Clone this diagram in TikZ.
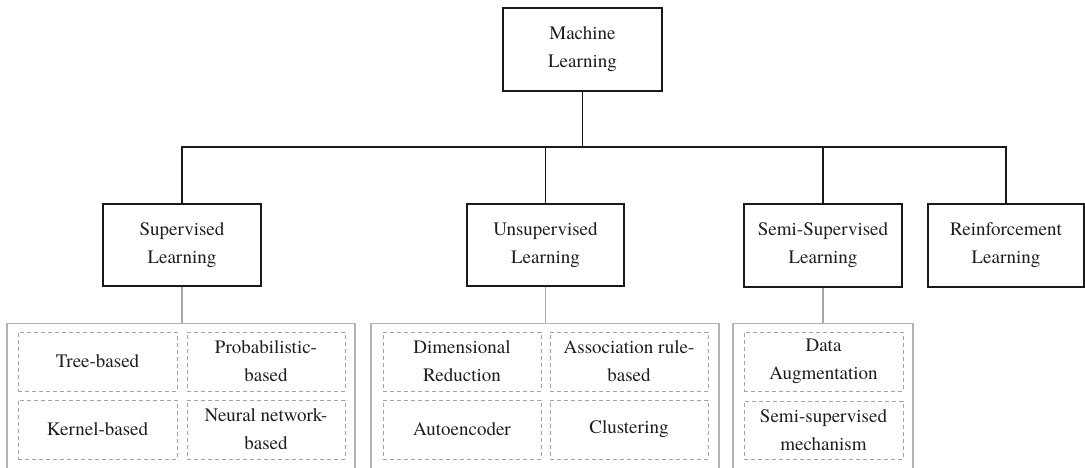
\documentclass[tikz,border=0pt]{standalone}
\usepackage{fontspec}
\setmainfont{TeX Gyre Termes}
\definecolor{linegray}{HTML}{A8A8A8}
\definecolor{boxgray}{HTML}{B4B4B4}
\definecolor{dashgray}{HTML}{A4A4A4}
\definecolor{txt}{HTML}{1E1E1E}
\tikzset{
  topbox/.style={draw=black!90, line width=1.3pt, minimum width=158pt, minimum height=82pt, inner sep=0pt, align=center, text=txt, font=\fontsize{19}{28}\selectfont},
  conn/.style={draw=black!90, line width=1.3pt},
  gconn/.style={draw=linegray, line width=1.2pt},
  container/.style={draw=boxgray, line width=1.2pt, inner sep=0pt},
  leaf/.style={draw=dashgray, line width=0.9pt, dash pattern=on 4pt off 3pt, minimum height=59pt, inner sep=0pt, align=center, text=txt, font=\fontsize{19}{28}\selectfont},
}
\begin{document}
\begin{tikzpicture}[x=1pt,y=-1pt]
\useasboundingbox (0,0) rectangle (1085,468);
\clip (0,0) rectangle (1085,468);
% top level
\node[topbox, minimum width=159pt, minimum height=83pt] (ml) at (582.5,49.5) {Machine\\Learning};
\node[topbox] (sup) at (182,245) {Supervised\\Learning};
\node[topbox, minimum width=157pt] (uns) at (545.5,245) {Unsupervised\\Learning};
\node[topbox, minimum height=83pt] (semi) at (823,245.5) {Semi-Supervised\\Learning};
\node[topbox, minimum width=156pt, minimum height=83pt] (rein) at (1006,245.5) {Reinforcement\\Learning};
\coordinate (bus) at (582.5,147);
\draw[conn] (ml.south) -- (bus);
\draw[conn] (sup.north) -- (sup.north |- bus) -- (rein.north |- bus) -- (rein.north);
\draw[conn] (uns.north |- bus) -- (uns.north);
\draw[conn] (semi.north |- bus) -- (semi.north);
% containers
\node[container, minimum width=348pt, minimum height=160pt, anchor=north] (c1) at (181,323) {};
\node[container, minimum width=348pt, minimum height=160pt, anchor=north] (c2) at (545,323) {};
\node[container, minimum width=180pt, minimum height=160pt, anchor=north] (c3) at (823,323) {};
\draw[gconn] (sup.south) -- (sup.south |- c1.north);
\draw[gconn] (uns.south) -- (uns.south |- c2.north);
\draw[gconn] (semi.south) -- (semi.south |- c3.north);
% leaves
\node[leaf, minimum width=159pt] (t1) at (97.5,361.5) {Tree-based};
\node[leaf, minimum width=158pt] (t2) at (266,361.5) {Probabilistic-\\based};
\node[leaf, minimum width=159pt] (t3) at (97.5,429.5) {Kernel-based};
\node[leaf, minimum width=158pt] (t4) at (266,429.5) {Neural network-\\based};
\node[leaf, minimum width=158pt] (u1) at (462,361.5) {Dimensional\\Reduction};
\node[leaf, minimum width=158pt] (u2) at (629,361.5) {Association rule-\\based};
\node[leaf, minimum width=158pt] (u3) at (462,429.5) {Autoencoder};
\node[leaf, minimum width=158pt] (u4) at (629,429.5) {Clustering};
\node[leaf, minimum width=159pt] (s1) at (823.5,361.5) {Data\\Augmentation};
\node[leaf, minimum width=159pt, minimum height=58pt] (s2) at (823.5,430) {Semi-supervised\\mechanism};
\end{tikzpicture}
\end{document}
